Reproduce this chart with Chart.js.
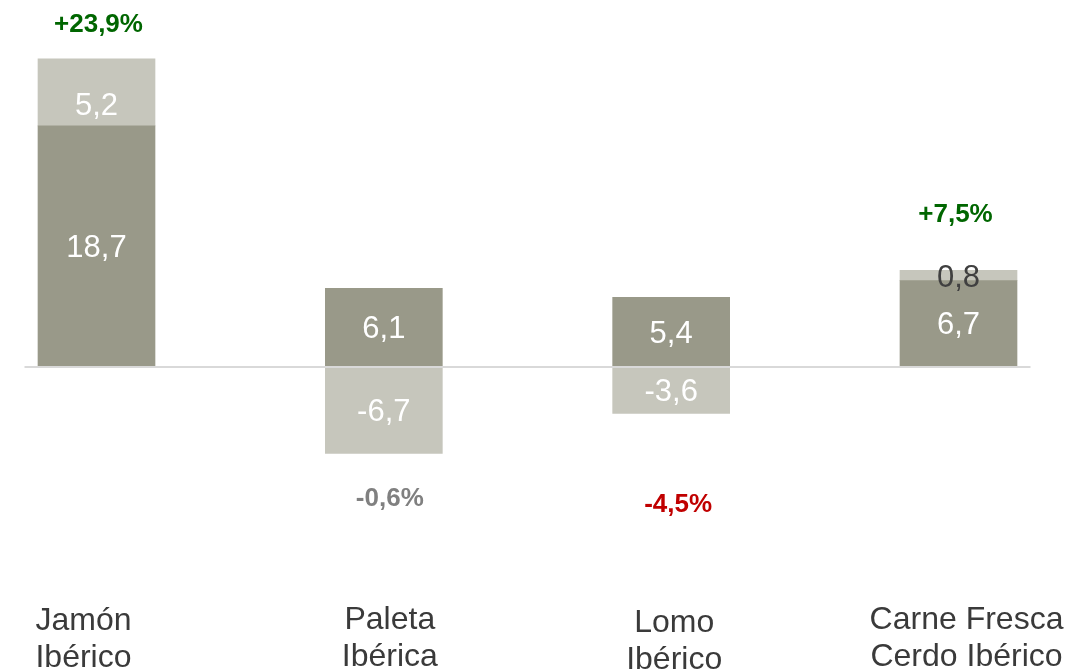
<!DOCTYPE html>
<html>
<head>
<meta charset="utf-8">
<script src="https://cdn.jsdelivr.net/npm/chart.js@4/dist/chart.umd.min.js"></script>
<style>
  body { margin: 0; background: #fff; }
</style>
</head>
<body>
<canvas id="chart" width="1084" height="671"></canvas>
<script>
// categories (two lines each)
var categories = [['Jamón', 'Ibérico'], ['Paleta', 'Ibérica'], ['Lomo', 'Ibérico'], ['Carne Fresca', 'Cerdo Ibérico']];
// dark part of the bar
var baseValues = [18.7, 6.1, 5.4, 6.7];
// light part of the bar
var changeValues = [5.2, -6.7, -3.6, 0.8];
// % change shown above / below each bar
var pctChange = [23.9, -0.6, -4.5, 7.5];

var FONT = "'Liberation Sans', Arial, sans-serif";

function fmt(v) {
    return v.toFixed(1).replace('.', ',');
}

// labels inside bars, % labels and category names
var labelsPlugin = {
    id: 'labels',
    afterDatasetsDraw: function(chart) {
        var ctx = chart.ctx;
        var area = chart.chartArea;
        var x = chart.scales.x;
        var y = chart.scales.y;

        // zero line
        ctx.save();
        ctx.strokeStyle = '#d9d9d9';
        ctx.lineWidth = 2;
        ctx.beginPath();
        ctx.moveTo(area.left - 72, Math.round(y.getPixelForValue(0)));
        ctx.lineTo(area.right + 72, Math.round(y.getPixelForValue(0)));
        ctx.stroke();

        // values inside the bars
        ctx.textAlign = 'center';
        ctx.textBaseline = 'middle';
        ctx.font = '31px ' + FONT;
        chart.data.datasets.forEach(function(ds, d) {
            chart.getDatasetMeta(d).data.forEach(function(bar, i) {
                var v = ds.data[i];
                var cy = (bar.y + bar.base) / 2;
                if (d == 1 && i == 0) cy += 12;
                if (d == 1 && i == 3) cy += 1;
                ctx.fillStyle = Math.abs(v) < 1 ? '#404040' : '#ffffff';
                ctx.fillText(fmt(v), bar.x, cy + 2);
            });
        });

        // % change labels
        var gaps = [27, 53, 99, 48];
        var nudgeX = [2, 6, 7, -3];
        ctx.font = 'bold 26px ' + FONT;
        ctx.textBaseline = 'alphabetic';
        pctChange.forEach(function(p, i) {
            var px = x.getPixelForValue(i) + nudgeX[i];
            var py;
            if (p > 0) {
                py = y.getPixelForValue(baseValues[i] + Math.max(changeValues[i], 0)) - gaps[i];
            } else {
                py = y.getPixelForValue(Math.min(changeValues[i], 0)) + gaps[i];
            }
            ctx.fillStyle = p > 0 ? '#006600' : (p < -1 ? '#c00000' : '#808080');
            ctx.fillText((p > 0 ? '+' : '') + fmt(p) + '%', px, py);
        });

        // category names
        var catNudge = [-13, 6, 3, 8];
        var catTop = [630, 629, 632, 629];
        ctx.font = '32px ' + FONT;
        ctx.fillStyle = '#3a3a3a';
        categories.forEach(function(lines, i) {
            var px = x.getPixelForValue(i) + catNudge[i];
            lines.forEach(function(t, k) {
                ctx.fillText(t, px, catTop[i] + k * 37);
            });
        });
        ctx.restore();
    }
};

new Chart(document.getElementById('chart').getContext('2d'), {
    type: 'bar',
    data: {
        labels: categories.map(function(c) { return c.join(' '); }),
        datasets: [{
            label: 'Base',
            data: baseValues,
            backgroundColor: '#999989',
            barThickness: 117,
            clip: false
        }, {
            label: 'Cambio',
            data: changeValues,
            backgroundColor: '#c6c6bc',
            barThickness: 117,
            clip: false
        }]
    },
    options: {
        responsive: false,
        animation: false,
        devicePixelRatio: 1,
        layout: { padding: { left: 96.5, right: 125.5, top: 0, bottom: 0 } },
        scales: {
            x: { stacked: true, offset: false, display: false },
            y: { stacked: true, display: false, min: -23.58, max: 28.47 }
        },
        plugins: {
            legend: { display: false },
            tooltip: { enabled: false }
        }
    },
    plugins: [labelsPlugin]
});
</script>
</body>
</html>
